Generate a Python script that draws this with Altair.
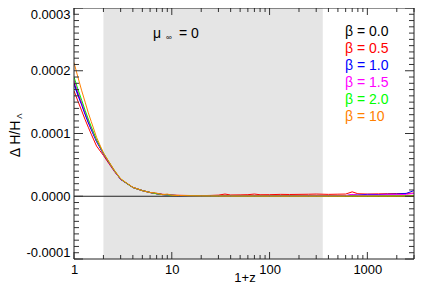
import altair as alt
import pandas as pd

# ---- data (values in units of 1e-6) ----
ONE_PLUS_Z = [1, 1.1, 1.2, 1.3, 1.4, 1.5, 1.7,
              2, 2.3, 2.6, 3, 3.5, 4,
              5, 6, 7, 8, 9, 10,
              12, 15, 20, 25, 30, 35, 40,
              50, 60, 70, 80, 100,
              130, 160, 200, 250, 300,
              400, 500, 600, 700, 800, 1000,
              1300, 1600, 2000, 2500, 3000]

beta_00 = [181, 163, 147, 132, 119, 108, 88,
           68, 53, 40, 27, 20, 14,
           9, 6, 4, 2.7, 2, 1.5,
           1, 0.7, 0.5, 0.4, 0.4, 0.3, 0.3,
           0.3, 0.2, 0.2, 0.2, 0.2,
           0.2, 0.2, 0.2, 0.2, 0.2,
           0.2, 0.2, 0.2, 0.2, 0.2, 0.2,
           0.2, 0.2, 0.2, 0.2, 0.3]
beta_05 = [168, 151, 136, 122, 110, 99, 80,
           65, 51, 39, 27, 20, 14,
           9, 6, 4.5, 3.2, 2.4, 1.8,
           1.5, 1.2, 1.0, 1.3, 1.8, 3.5, 2.0,
           2.2, 2.5, 3.5, 2.4, 2.5,
           3.0, 2.8, 3.0, 3.2, 3.5,
           3.0, 3.3, 3.5, 7.0, 4.0, 3.5,
           3.8, 4.0, 4.2, 4.5, 5.0]
beta_10 = [178, 160, 145, 130, 117, 106, 87,
           67.5, 52.5, 40, 27, 20, 14,
           9, 6, 4, 2.7, 2, 1.5,
           1, 0.7, 0.5, 0.5, 0.4, 0.4, 0.3,
           0.3, 0.3, 0.3, 0.3, 0.3,
           0.3, 0.4, 0.4, 0.5, 0.5,
           0.6, 0.8, 1.0, 2.5, 2.0, 3.0,
           2.8, 3.2, 3.5, 4.5, 9.0]
beta_15 = [185, 166, 149, 134, 121, 109, 89,
           68.5, 53, 40, 27, 20, 14,
           9, 6, 4, 2.7, 2, 1.5,
           1, 0.7, 0.5, 0.4, 0.4, 0.3, 0.3,
           0.3, 0.3, 0.3, 0.3, 0.3,
           0.3, 0.3, 0.4, 0.4, 0.5,
           0.5, 0.6, 0.8, 3.0, 1.5, 1.8,
           2.0, 2.5, 2.5, 3.0, 4.5]
beta_20 = [190, 170, 153, 137, 123, 111, 90,
           69, 53.5, 40.5, 27.5, 20, 14,
           9, 6, 4, 2.7, 2, 1.5,
           1, 0.7, 0.5, 0.4, 0.3, 0.3, 0.3,
           0.2, 0.2, 0.2, 0.2, 0.2,
           0.2, 0.2, 0.2, 0.2, 0.2,
           0.2, 0.2, 0.2, 0.2, 0.2, 0.2,
           0.3, 0.3, 0.4, 0.6, 1.5]
beta_100 = [213, 189, 168, 150, 133, 119, 94,
            69, 54, 41, 28, 20.5, 14.3,
            9, 6, 5, 2.5, 3.5, 1.5,
            1.2, 0.8, 0.6, 0.5, 0.4, 0.3, 0.3,
            0.3, 0.3, 0.3, 0.3, 0.2,
            0.2, 0.2, 0.2, 0.2, 0.2,
            0.2, 0.2, 0.2, 0.2, 0.2, 0.2,
            0.2, 0.2, 0.2, 0.3, 0.5]

SERIES_LABELS = ["β = 0.0", "β = 0.5", "β = 1.0", "β = 1.5", "β = 2.0", "β = 10"]
SERIES_VALUES = [beta_00, beta_05, beta_10, beta_15, beta_20, beta_100]
SERIES_COLORS = ["#000000", "#ff0000", "#0000ff", "#ff00ff", "#00ff00", "#ff8000"]

SHADE_RANGE = [2, 350]
X_DOMAIN = [1, 3000]
Y_DOMAIN = [-0.0001, 0.0003]
X_LABELS = [1, 10, 100, 1000]
Y_LABELS = [-0.0001, 0.0, 0.0001, 0.0002, 0.0003]

# ---- layout ----
W, H = 340, 251
FONT = "Liberation Sans"

xs = alt.Scale(type="log", domain=X_DOMAIN, nice=False)
ys = alt.Scale(domain=Y_DOMAIN, nice=False, zero=False)
x_axis = alt.Axis(values=X_LABELS, labelExpr="datum.value", ticks=False, domain=False,
                  grid=False, title=None, labelFontSize=13, labelFont=FONT,
                  labelColor="#000", labelPadding=4, labelFlush=False, labelOverlap=False)
y_axis = alt.Axis(values=Y_LABELS,
                  labelExpr="replace(format(datum.value, '.4f'), '\u2212', '-')",
                  ticks=False, domain=False, grid=False, title=None, labelFontSize=13,
                  labelFont=FONT, labelColor="#000", labelPadding=4, labelFlush=True,
                  labelOverlap=False)

X = lambda f: alt.X(f, type="quantitative", scale=xs, axis=x_axis)
Y = lambda f: alt.Y(f, type="quantitative", scale=ys, axis=y_axis)

layers = []

# shaded band
shade = pd.DataFrame({"x1": [SHADE_RANGE[0]], "x2": [SHADE_RANGE[1]],
                      "y1": [Y_DOMAIN[0]], "y2": [Y_DOMAIN[1]]})
layers.append(alt.Chart(shade).mark_rect(color="#e5e5e5").encode(
    x=X("x1"), x2="x2", y=Y("y1"), y2="y2"))

# zero line
zero = pd.DataFrame({"y": [0.0]})
layers.append(alt.Chart(zero).mark_rule(color="#222", strokeWidth=1).encode(y=Y("y")))

# curves
for lab, vals, col in zip(SERIES_LABELS, SERIES_VALUES, SERIES_COLORS):
    df = pd.DataFrame({"z": ONE_PLUS_Z, "v": [v * 1e-6 for v in vals]})
    layers.append(alt.Chart(df).mark_line(color=col, strokeWidth=1, clip=True).encode(
        x=X("z"), y=Y("v")))

# ticks (inward), minor / major
x_minor = [m * 10 ** d for d in range(4) for m in range(2, 10) if m * 10 ** d <= 3000]
x_major = X_LABELS
y_minor = [round(i * 1e-5, 6) for i in range(-10, 31) if i % 10 != 0]
y_major = Y_LABELS
tick_col = "#333"
for vals, ln in ((x_minor, 4), (x_major, 7)):
    d = pd.DataFrame({"t": vals})
    layers.append(alt.Chart(d).mark_rule(color=tick_col).encode(
        x=X("t"), y=alt.value(H), y2=alt.value(H - ln)))
    layers.append(alt.Chart(d).mark_rule(color=tick_col).encode(
        x=X("t"), y=alt.value(0), y2=alt.value(ln)))
for vals, ln in ((y_minor, 5), (y_major, 9)):
    d = pd.DataFrame({"t": vals})
    layers.append(alt.Chart(d).mark_rule(color=tick_col).encode(
        y=Y("t"), x=alt.value(0), x2=alt.value(ln)))
    layers.append(alt.Chart(d).mark_rule(color=tick_col).encode(
        y=Y("t"), x=alt.value(W), x2=alt.value(W - ln)))

# frame
frame = pd.DataFrame({"a": [0]})
for enc in (dict(x=alt.value(0), y=alt.value(0), y2=alt.value(H)),
            dict(x=alt.value(W), y=alt.value(0), y2=alt.value(H)),
            dict(y=alt.value(0), x=alt.value(0), x2=alt.value(W)),
            dict(y=alt.value(H), x=alt.value(0), x2=alt.value(W))):
    layers.append(alt.Chart(frame).mark_rule(color="#222", strokeWidth=1).encode(**enc))

# legend text
for i, (lab, col) in enumerate(zip(SERIES_LABELS, SERIES_COLORS)):
    layers.append(alt.Chart(frame).mark_text(
        text=lab, color=col, fontSize=14, font=FONT, align="left", baseline="middle"
    ).encode(x=alt.value(271), y=alt.value(24 + i * 17)))

# mu_inf = 0 label
layers.append(alt.Chart(frame).mark_text(text="μ", fontSize=14, font=FONT, align="left",
              baseline="alphabetic", color="#000").encode(x=alt.value(79), y=alt.value(30)))
layers.append(alt.Chart(frame).mark_text(text="∞", fontSize=8, font=FONT, align="left",
              baseline="alphabetic", color="#000").encode(x=alt.value(92), y=alt.value(32)))
layers.append(alt.Chart(frame).mark_text(text="= 0", fontSize=14, font=FONT, align="left",
              baseline="alphabetic", color="#000").encode(x=alt.value(105), y=alt.value(30)))

# axis titles
layers.append(alt.Chart(frame).mark_text(text="1+z", fontSize=13, font=FONT, align="center",
              baseline="alphabetic", color="#000").encode(x=alt.value(171), y=alt.value(274)))
layers.append(alt.Chart(frame).mark_text(text="Δ H/H", fontSize=14, font=FONT, angle=270,
              align="center", baseline="middle", color="#000").encode(
              x=alt.value(-58), y=alt.value(131)))
layers.append(alt.Chart(frame).mark_text(text="Λ", fontSize=8, font=FONT, angle=270,
              align="center", baseline="middle", color="#000").encode(
              x=alt.value(-54), y=alt.value(108)))

chart = alt.layer(*layers).properties(
    width=W, height=H, autosize="none",
    padding={"left": 66, "top": 0, "right": 9, "bottom": 27},
).configure_view(stroke=None)

chart.save("out.html", embed_options={"renderer": "svg", "actions": False})
